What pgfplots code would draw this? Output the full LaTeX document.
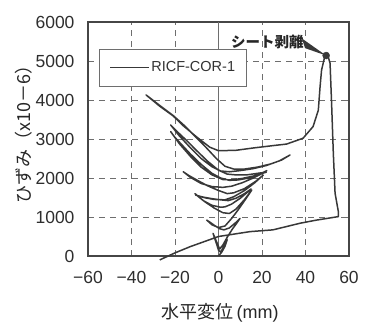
\documentclass[border=0pt]{standalone}
\usepackage{pgfplots}
\pgfplotsset{compat=1.18}
\usepackage{fontspec}
\setmainfont{Liberation Sans}
\newfontfamily\jp{Noto Sans CJK JP}
\definecolor{ln}{HTML}{383838}
\definecolor{gr}{HTML}{6E6E6E}
\begin{document}
\begin{tikzpicture}
\path[use as bounding box] (-88bp,-67bp) rectangle (277bp,256bp);
\begin{axis}[
  at={(0,0)}, anchor=south west,
  scale only axis, width=261bp, height=234bp,
  xmin=-60, xmax=60, ymin=0, ymax=6000,
  clip=false,
  xtick={-60,-40,-20,0,20,40,60},
  xticklabels={−60,−40,−20,0,20,40,60},
  ytick={0,1000,2000,3000,4000,5000,6000},
  yticklabels={0,1000,2000,3000,4000,5000,6000},
  tick align=inside, major tick length=3bp,
  tick style={draw=gr, line width=0.7bp},
  grid=major,
  major grid style={draw=gr, line width=0.8bp, dash pattern=on 6bp off 5bp},
  extra x ticks={0}, extra x tick labels={},
  extra x tick style={major grid style={draw=gr, solid, line width=0.8bp}},
  axis line style={draw=gray!55!black, line width=1.3bp},
  ticklabel style={font=\fontsize{17.5bp}{20bp}\selectfont, text=black!82},
  xticklabel style={yshift=-12bp},
  yticklabel style={xshift=-10bp},
  xlabel={{\jp 水平変位}\,(mm)},
  ylabel={\jp ひずみ（x10－6）},
  xlabel style={at={(axis description cs:0.506,-0.2436)}, anchor=center, font=\fontsize{18bp}{20bp}\selectfont, text=black!85},
  ylabel style={at={(axis description cs:-0.245,0.538)}, anchor=center, font=\fontsize{18bp}{20bp}\selectfont, text=black!85},
  legend style={at={(axis description cs:0.042,0.885)}, anchor=north west,
    draw=gr, line width=0.7bp, inner xsep=10bp, inner ysep=11bp,
    font=\fontsize{14.5bp}{16bp}\selectfont, text=black!80,
    nodes={inner sep=1.5bp}},
  legend image code/.code={\draw[#1] (0bp,0bp) -- (39bp,0bp);},
]
\addplot[color=ln, line width=1.5bp, line join=round] coordinates {
(0,0) (1.5,100) (3,250) (4,420)
(2.5,250) (1,100) (0,150) (-1,330) (-2.5,580)
(-1,380) (0.5,180) (2,280) (4,480) (6.5,700) (8.5,850) (9.9,965)
(8,860) (5,720) (2.5,670) (0.5,700) (-2,790) (-4,870) (-5.4,920)
(-3,800) (0,730) (3,770) (6,960) (9,1180) (12,1420) (15.3,1690)
(12,1450) (8,1200) (5,1090) (2,1110) (-2,1230) (-6,1380) (-9,1510) (-10.8,1600)
(-7,1420) (-3,1300) (1,1250) (3,1260) (6,1330) (10,1480) (13,1620) (15,1720)
(12,1600) (8,1480) (4.5,1420) (1,1440) (-3,1470) (-7,1510) (-10.5,1560)
(-6,1490) (-2,1450) (3,1440) (7,1520) (12,1680) (16.5,1870) (20.6,2075)
(17,1910) (12,1730) (7,1620) (4,1600) (0,1680) (-5,1800) (-10,1950) (-13.5,2060) (-16.2,2160)
(-13,2020) (-8,1860) (-3,1780) (2,1760) (6,1790) (11,1880) (16,2000) (19.5,2100) (22.2,2190)
(19,2100) (14,2000) (9,1950) (5,1940) (1,2000) (-3,2120) (-8,2350) (-13,2620) (-17,2860) (-20,3040) (-22,3190)
(-18,2880) (-13,2560) (-8,2280) (-3,2080) (2,1960) (6,1950) (11,1990) (16,2050) (22,2150)
(18,2120) (13,2080) (8,2080) (4,2100) (0,2200) (-5,2430) (-10,2700) (-15,2980) (-19,3190) (-22,3360)
(-18,3080) (-13,2780) (-8,2500) (-3,2290) (1,2180) (5,2160) (10,2190) (16,2240) (22,2320) (28,2440) (32.9,2590)
(29,2460) (24,2360) (18,2280) (12,2230) (7,2230) (3,2300) (-1,2500) (-6,2800) (-11,3080) (-16,3360) (-20.8,3600) (-27,3860) (-33.3,4130)
(-27,3840) (-20.8,3590) (-16.2,3340) (-10,3050) (-4,2790) (0,2700) (8,2710) (16,2770) (25,2830) (31.3,2870) (38.9,3020) (43.5,3320) (45.9,3740) (46.7,4340) (47.4,4770) (49,5150)
(50,5200) (51.3,4940) (52,3920) (52.8,2630) (53.6,1610) (55.1,1140) (55.1,1010)
(45,920) (37.5,840) (25,670) (14.5,625) (0,500) (-13,240) (-20,80) (-27,-100)
};
\addlegendentry{RICF-COR-1}
\addplot[only marks, mark=*, mark size=3.5bp, color=ln, forget plot] coordinates {(49.5,5140)};
\fill[ln] (axis cs:38.3,5580) -- (axis cs:39.8,5330) -- (axis cs:49.5,5140) -- cycle;
\node[font=\jp\bfseries\fontsize{14.5bp}{16bp}\selectfont, text=black!85, inner sep=0pt] at (axis cs:22.5,5490) {シート剥離};
\end{axis}
\end{tikzpicture}
\end{document}
